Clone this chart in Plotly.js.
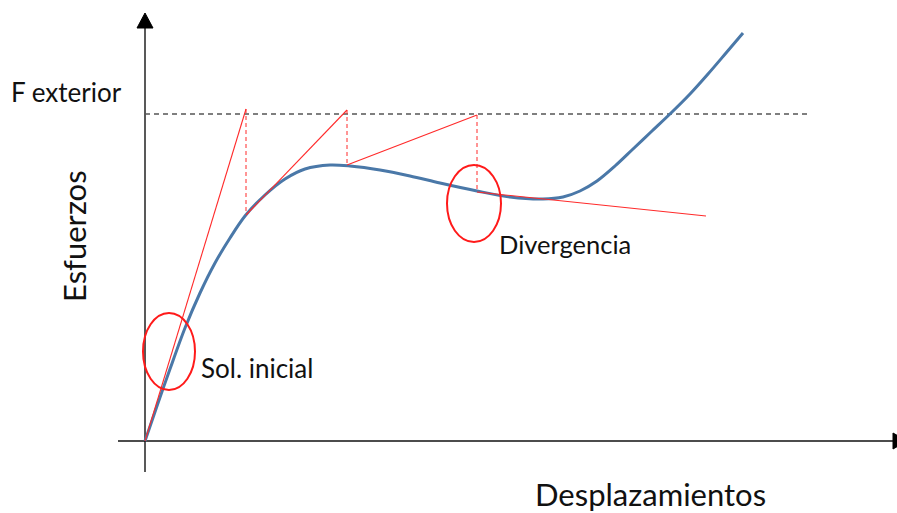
<!DOCTYPE html>
<html>
<head>
<meta charset="utf-8">
<script src="https://cdn.plot.ly/plotly-3.0.1.min.js"></script>
<style>html,body{margin:0;padding:0;background:#fff;}#chart{width:897px;height:513px;}</style>
</head>
<body>
<div id="chart"></div>
<script>
// Response curve (Esfuerzos vs Desplazamientos), schematic units
var curveX = [0,12,25,40,55,70,85,100,120,140,160,185,205,235,265,295,332,365,398,418,435,452,470,488,507,526,545,563,581,598];
var curveY = [0,35,72,113,148,178,203,225,246,262,272,276,275,271,265,258,250,244,242,244,250,260,275,292,310,328,347,367,388,408];

// Newton-Raphson iterations: tangent (solid) segments
var iterX = [0,101,null,101,202,null,202,332,null,332,561];
var iterY = [0,332,null,226,331,null,276,326,null,249,225];

// Corrections (dashed verticals)
var corrX = [101,101,null,202,202,null,332,332];
var corrY = [332,226,null,331,276,null,326,249];

// External force level
var fExtX = [0,665];
var fExtY = [327,327];

var labels = {
  fext: 'F exterior',
  yTitle: 'Esfuerzos',
  xTitle: 'Desplazamientos',
  sol: 'Sol. inicial',
  div: 'Divergencia'
};

var FONT = 'Lato, "Open Sans", sans-serif';

var traces = [
  {x: fExtX, y: fExtY, mode: 'lines', line: {color: '#555555', width: 1.3, dash: '5px,4px'}, hoverinfo: 'skip'},
  {x: corrX, y: corrY, mode: 'lines', line: {color: '#ff2a2a', width: 1, dash: '4px,3px'}, hoverinfo: 'skip'},
  {x: curveX, y: curveY, mode: 'lines', line: {color: '#4a78a8', width: 3, shape: 'spline', smoothing: 0.9}, hoverinfo: 'skip'},
  {x: iterX, y: iterY, mode: 'lines', line: {color: '#ff2a2a', width: 1.1}, hoverinfo: 'skip', connectgaps: false}
];

var layout = {
  width: 897, height: 513,
  margin: {l: 0, r: 0, t: 0, b: 0},
  paper_bgcolor: '#ffffff', plot_bgcolor: '#ffffff',
  showlegend: false,
  xaxis: {range: [-145, 752], visible: false, fixedrange: true},
  yaxis: {range: [-72, 441], visible: false, fixedrange: true},
  shapes: [
    // axes
    {type: 'line', xref: 'x', yref: 'y', x0: 0, x1: 0, y0: -31, y1: 414, line: {color: '#222', width: 1.5}, layer: 'below'},
    {type: 'line', xref: 'x', yref: 'y', x0: -27, x1: 750, y0: 0, y1: 0, line: {color: '#111', width: 1.5}, layer: 'below'},
    {type: 'path', xref: 'x', yref: 'y', path: 'M -8,413 L 8,413 L 0,428 Z', fillcolor: '#000', line: {color: '#000', width: 1}},
    {type: 'path', xref: 'x', yref: 'y', path: 'M 748,8 L 748,-8 L 762,0 Z', fillcolor: '#000', line: {color: '#000', width: 1}},
    // highlight ellipses
    {type: 'circle', xref: 'x', yref: 'y', x0: -2, x1: 50, y0: 51, y1: 128, line: {color: '#ff1a1a', width: 2}},
    {type: 'circle', xref: 'x', yref: 'y', x0: 302, x1: 356, y0: 199, y1: 276, line: {color: '#ff1a1a', width: 2}}
  ],
  annotations: [
    {text: labels.fext, xref: 'x', yref: 'y', x: -136, y: 349, xanchor: 'left', yanchor: 'middle', showarrow: false, font: {family: FONT, size: 26, color: '#111'}},
    {text: labels.yTitle, xref: 'x', yref: 'y', x: -71, y: 205, xanchor: 'center', yanchor: 'middle', textangle: -90, showarrow: false, font: {family: FONT, size: 31, color: '#111'}},
    {text: labels.xTitle, xref: 'x', yref: 'y', x: 505, y: -53, xanchor: 'center', yanchor: 'middle', showarrow: false, font: {family: FONT, size: 31, color: '#111'}},
    {text: labels.sol, xref: 'x', yref: 'y', x: 54, y: 73, xanchor: 'left', yanchor: 'middle', showarrow: false, font: {family: FONT, size: 26, color: '#111'}},
    {text: labels.div, xref: 'x', yref: 'y', x: 352, y: 197, xanchor: 'left', yanchor: 'middle', showarrow: false, font: {family: FONT, size: 25.5, color: '#111'}}
  ]
};

Plotly.newPlot('chart', traces, layout, {displayModeBar: false, staticPlot: true});
</script>
</body>
</html>
